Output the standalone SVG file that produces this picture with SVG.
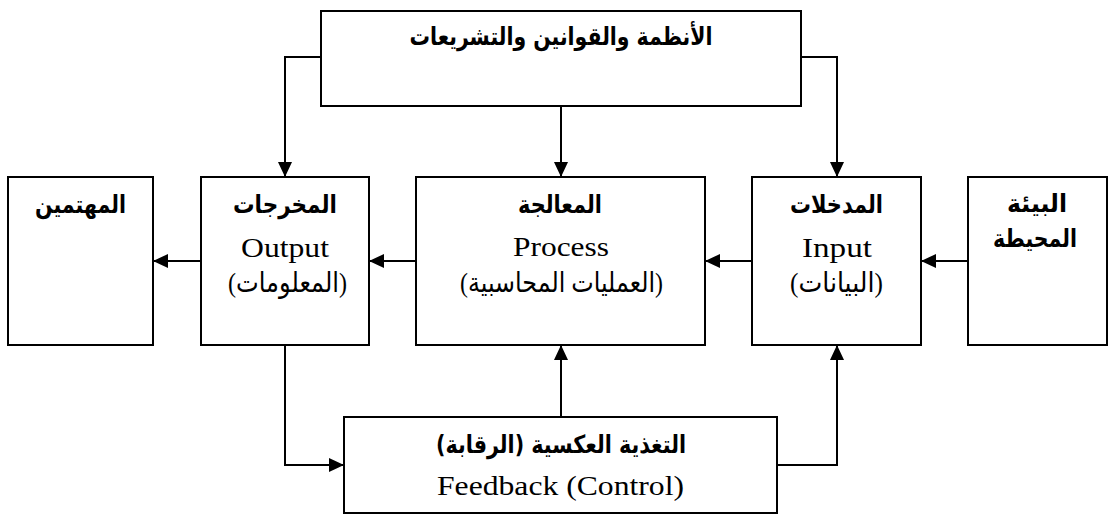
<svg xmlns="http://www.w3.org/2000/svg" width="1109" height="515" viewBox="0 0 1109 515">
<style>
.box{fill:#fff;stroke:#000;stroke-width:2}
.ar{font-family:'DejaVu Sans','Liberation Sans',sans-serif;font-weight:bold;font-size:25px;fill:#000}
.arr{font-family:'Liberation Serif','DejaVu Sans',serif;font-size:28px;fill:#000}
.en{font-family:'Liberation Serif','Times New Roman',serif;font-size:28px;fill:#000}
.c{fill:none;stroke:#000;stroke-width:2}
</style>
<defs>
<marker id="ah" markerUnits="userSpaceOnUse" markerWidth="15" markerHeight="14" refX="15" refY="7" orient="auto" viewBox="0 0 15 14">
<path d="M0,0 L15,7 L0,14 z" fill="#000"/>
</marker>
</defs>
<rect width="1109" height="515" fill="#fff"/>
<g id="connectors">
<path class="c" d="M321,57 H285 V177" marker-end="url(#ah)"/>
<path class="c" d="M561,106 V177" marker-end="url(#ah)"/>
<path class="c" d="M801,57 H837 V177" marker-end="url(#ah)"/>
<path class="c" d="M968,261 H921" marker-end="url(#ah)"/>
<path class="c" d="M752,261 H705" marker-end="url(#ah)"/>
<path class="c" d="M416,261 H369" marker-end="url(#ah)"/>
<path class="c" d="M201,261 H153" marker-end="url(#ah)"/>
<path class="c" d="M285,345 V465 H344" marker-end="url(#ah)"/>
<path class="c" d="M561,417 V345" marker-end="url(#ah)"/>
<path class="c" d="M777,465 H837 V345" marker-end="url(#ah)"/>
</g>
<g id="laws">
<rect class="box" x="321" y="11" width="480" height="95"/>
<text class="ar" x="561" y="45" text-anchor="middle" direction="rtl" textLength="303" lengthAdjust="spacingAndGlyphs">الأنظمة والقوانين والتشريعات</text>
</g>
<g id="stakeholders">
<rect class="box" x="8" y="177" width="145" height="168"/>
<text class="ar" x="80.5" y="213" text-anchor="middle" direction="rtl" textLength="91" lengthAdjust="spacingAndGlyphs">المهتمين</text>
</g>
<g id="output">
<rect class="box" x="201" y="177" width="168" height="168"/>
<text class="ar" x="285" y="213" text-anchor="middle" direction="rtl" textLength="104" lengthAdjust="spacingAndGlyphs">المخرجات</text>
<text class="en" x="285" y="257" text-anchor="middle" textLength="88" lengthAdjust="spacingAndGlyphs">Output</text>
<text class="arr" x="287.5" y="292" text-anchor="middle" direction="rtl" textLength="119" lengthAdjust="spacingAndGlyphs">(المعلومات)</text>
</g>
<g id="process">
<rect class="box" x="416" y="177" width="289" height="168"/>
<text class="ar" x="560" y="213" text-anchor="middle" direction="rtl" textLength="84" lengthAdjust="spacingAndGlyphs">المعالجة</text>
<text class="en" x="561" y="256" text-anchor="middle" textLength="96" lengthAdjust="spacingAndGlyphs">Process</text>
<text class="arr" x="561.5" y="292" text-anchor="middle" direction="rtl" textLength="203" lengthAdjust="spacingAndGlyphs">(العمليات المحاسبية)</text>
</g>
<g id="input">
<rect class="box" x="752" y="177" width="169" height="168"/>
<text class="ar" x="836.5" y="213" text-anchor="middle" direction="rtl" textLength="93" lengthAdjust="spacingAndGlyphs">المدخلات</text>
<text class="en" x="837" y="257" text-anchor="middle" textLength="70" lengthAdjust="spacingAndGlyphs">Input</text>
<text class="arr" x="836.5" y="292" text-anchor="middle" direction="rtl" textLength="93" lengthAdjust="spacingAndGlyphs">(البيانات)</text>
</g>
<g id="environment">
<rect class="box" x="968" y="177" width="139" height="168"/>
<text class="ar" x="1037" y="212" text-anchor="middle" direction="rtl" textLength="60" lengthAdjust="spacingAndGlyphs">البيئة</text>
<text class="ar" x="1035" y="247" text-anchor="middle" direction="rtl" textLength="84" lengthAdjust="spacingAndGlyphs">المحيطة</text>
</g>
<g id="feedback">
<rect class="box" x="344" y="417" width="433" height="96"/>
<text class="ar" x="561" y="453" text-anchor="middle" direction="rtl" textLength="250" lengthAdjust="spacingAndGlyphs">التغذية العكسية (الرقابة)</text>
<text class="en" x="560.5" y="495" text-anchor="middle" textLength="247" lengthAdjust="spacingAndGlyphs">Feedback (Control)</text>
</g>
</svg>
